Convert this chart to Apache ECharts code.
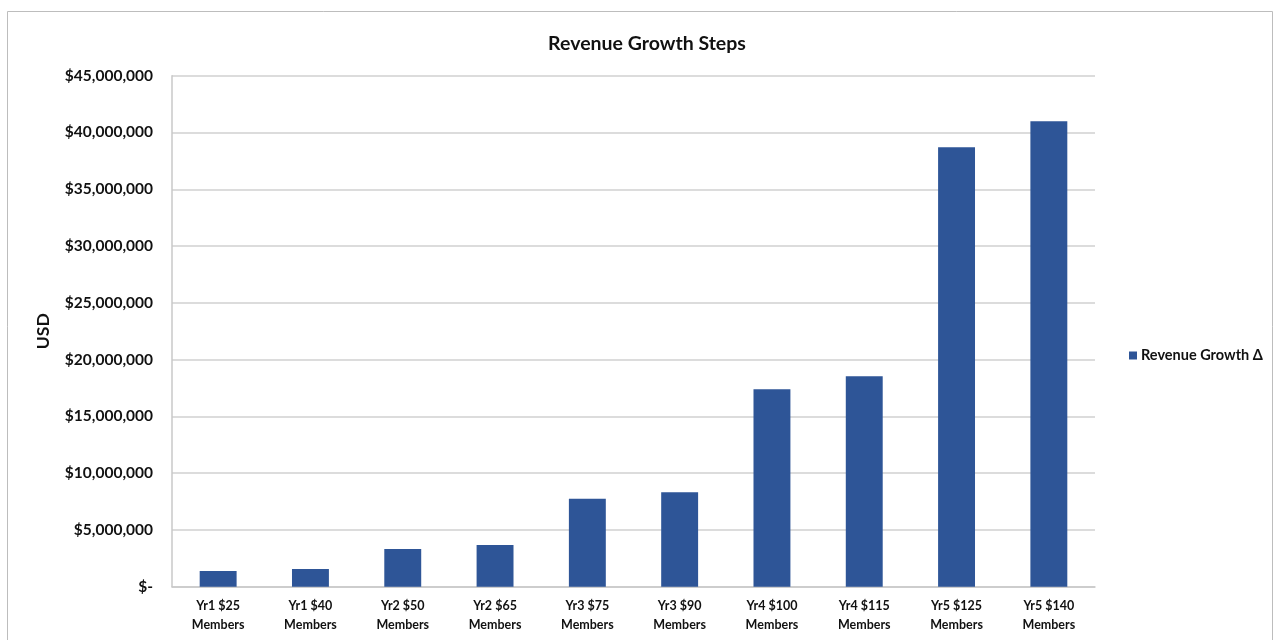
<!DOCTYPE html>
<html>
<head>
<meta charset="utf-8">
<script src="https://cdn.jsdelivr.net/npm/echarts@6/dist/echarts.min.js"></script>
<style>
  html, body { margin: 0; padding: 0; background: #fff; }
  #chart { width: 1274px; height: 640px; }
</style>
</head>
<body>
<div id="chart"></div>
<script>
const categories = [
  'Yr1 $25\nMembers', 'Yr1 $40\nMembers', 'Yr2 $50\nMembers', 'Yr2 $65\nMembers',
  'Yr3 $75\nMembers', 'Yr3 $90\nMembers', 'Yr4 $100\nMembers', 'Yr4 $115\nMembers',
  'Yr5 $125\nMembers', 'Yr5 $140\nMembers'
];
const revenueGrowth = [
  1380000, 1560000, 3320000, 3670000, 7750000,
  8310000, 17380000, 18530000, 38690000, 40980000
];

const font = 'Lato, "Open Sans", sans-serif';
const textColor = '#111';
const barColor = '#2E5597';

function money(v) {
  if (v === 0) return '$-';
  return '$' + v.toLocaleString('en-US');
}

const chart = echarts.init(document.getElementById('chart'));
chart.setOption({
  animation: false,
  backgroundColor: '#fff',
  graphic: [{
    type: 'rect',
    shape: { x: 7.5, y: 11.5, width: 1265, height: 640 },
    style: { fill: 'none', stroke: '#bdbdbd', lineWidth: 1 },
    silent: true
  }],
  title: {
    text: 'Revenue Growth Steps',
    left: 642,
    textAlign: 'center',
    top: 29,
    textStyle: { fontFamily: font, fontSize: 19.5, fontWeight: 'bold', color: textColor }
  },
  legend: {
    left: 1124,
    top: 343,
    itemWidth: 8,
    itemHeight: 8,
    itemGap: 4,
    icon: 'rect',
    textStyle: { fontFamily: font, fontSize: 14.5, fontWeight: 'bold', color: textColor, padding: [0, 0, 0, -1] }
  },
  grid: { left: 172, right: 179, top: 75.7, bottom: 53.3, containLabel: false },
  xAxis: {
    type: 'category',
    data: categories,
    axisLine: { lineStyle: { color: '#c8c8c8', width: 1.5 } },
    axisTick: { show: false },
    axisLabel: {
      interval: 0,
      margin: 10,
      fontFamily: font,
      fontSize: 12.5,
      fontWeight: 'bold',
      lineHeight: 19,
      color: textColor
    }
  },
  yAxis: {
    type: 'value',
    min: 0,
    max: 45000000,
    interval: 5000000,
    name: 'USD',
    nameLocation: 'middle',
    nameGap: 120,
    nameRotate: 90,
    nameTextStyle: { fontFamily: font, fontSize: 17.5, fontWeight: 'bold', color: textColor },
    axisLine: { show: true, lineStyle: { color: '#c8c8c8', width: 1.5 } },
    axisTick: { show: false },
    splitLine: { lineStyle: { color: '#d0d0d0', width: 1.5 } },
    axisLabel: {
      formatter: money,
      margin: 19,
      fontFamily: font,
      fontSize: 15.5,
      fontWeight: 'bold',
      color: textColor
    }
  },
  series: [{
    name: 'Revenue Growth Δ',
    type: 'bar',
    data: revenueGrowth,
    barWidth: '40%',
    itemStyle: { color: barColor }
  }]
});
</script>
</body>
</html>
